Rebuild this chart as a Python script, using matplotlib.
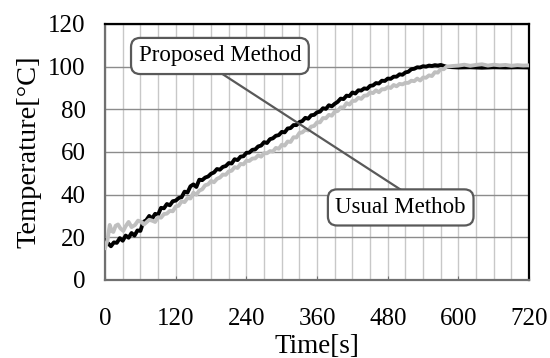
import numpy as np
import matplotlib
matplotlib.use("Agg")
import matplotlib.pyplot as plt
from matplotlib.ticker import MultipleLocator

plt.rcParams['font.family'] = ['Liberation Serif', 'DejaVu Serif']

# proposed method (black trace)
t_prop = [0, 5, 10, 15, 20, 25, 30, 35, 40, 45, 50, 55, 60, 65, 70, 75, 80, 85, 90, 95,
          100, 105, 110, 115, 120, 125, 130, 135, 140, 145, 150, 155, 160, 165, 170, 175,
          180, 185, 190, 195, 200, 205, 210, 215, 220, 225, 230, 235, 240, 245, 250, 255,
          260, 265, 270, 275, 280, 285, 290, 295, 300, 305, 310, 315, 320, 325, 330, 335,
          340, 345, 350, 355, 360, 365, 370, 375, 380, 385, 390, 395, 400, 405, 410, 415,
          420, 425, 430, 435, 440, 445, 450, 455, 460, 465, 470, 475, 480, 485, 490, 495,
          500, 505, 510, 515, 520, 525, 530, 535, 540, 545, 550, 555, 560, 565, 570,
          580, 600, 620, 640, 660, 680, 700, 720]
T_prop = [18.5, 17.2, 15.8, 17.6, 17.4, 19.6, 18.4, 20.8, 19.8, 22.0, 20.8, 23.2, 23.0, 27.2, 28.0, 30.0, 28.8, 31.0, 30.6, 33.8,
          33.6, 35.6, 35.0, 36.9, 37.2, 38.4, 38.8, 41.4, 41.0, 43.9, 44.8, 43.6, 47.0, 46.8, 48.0, 48.5,
          49.8, 50.4, 52.0, 51.7, 53.0, 53.4, 54.8, 54.6, 56.6, 56.2, 57.8, 58.0, 59.6, 59.7, 61.0, 61.2,
          62.6, 63.0, 64.6, 64.2, 66.0, 66.4, 67.6, 67.9, 69.4, 69.2, 71.0, 71.2, 72.6, 72.6, 74.0, 74.5,
          76.0, 75.6, 77.2, 77.4, 78.6, 78.9, 80.5, 80.2, 81.9, 81.4, 82.6, 83.5, 85.0, 84.8, 86.4, 86.2,
          87.9, 87.4, 88.9, 88.8, 89.8, 89.6, 91.0, 91.2, 92.3, 92.1, 93.4, 93.3, 94.4, 94.3, 95.3, 95.3,
          96.4, 96.2, 97.3, 97.6, 98.8, 99.0, 99.7, 99.6, 100.2, 100.0, 100.5, 100.3, 100.7, 100.5, 100.8,
          99.9, 99.6, 99.7, 99.5, 99.7, 99.6, 99.7, 99.6]

# usual method (gray trace)
t_usual = [0, 4, 8, 11, 14, 18, 22, 26, 31, 35, 40, 45, 51, 56, 62, 66, 70, 75, 80, 85,
           90, 95, 100, 105, 110, 115, 120, 125, 130, 135, 140, 145, 150, 155, 160, 165,
           170, 175, 180, 185, 190, 195, 200, 205, 210, 215, 220, 225, 230, 235, 240, 245,
           250, 255, 260, 265, 270, 275, 280, 285, 290, 295, 300, 305, 310, 315, 320, 325,
           330, 335, 340, 345, 350, 355, 360, 365, 370, 375, 380, 385, 390, 395, 400, 405,
           410, 415, 420, 425, 430, 435, 440, 445, 450, 455, 460, 465, 470, 475, 480, 485,
           490, 495, 500, 505, 510, 515, 520, 525, 530, 535, 540, 545, 550, 555, 560, 565,
           570, 575, 580, 590, 600, 610, 620, 630, 640, 650, 660, 670, 680, 690, 700, 710, 720]
T_usual = [15.0, 18.5, 25.8, 23.0, 22.5, 25.4, 26.0, 24.2, 23.0, 25.2, 27.2, 24.8, 25.8, 27.8, 27.2, 26.0, 27.0, 28.2, 27.8, 27.2,
           29.4, 29.2, 30.9, 31.1, 32.4, 32.2, 34.4, 34.8, 36.9, 36.5, 38.4, 38.2, 40.9, 40.0, 41.9, 42.5,
           44.4, 44.8, 46.4, 45.8, 47.4, 48.0, 49.4, 49.3, 50.9, 51.2, 52.9, 52.5, 54.4, 54.2, 55.9, 55.8,
           56.9, 57.0, 58.4, 57.8, 59.4, 59.4, 60.4, 60.2, 61.9, 61.5, 63.4, 63.0, 64.9, 64.7, 66.9, 66.8,
           68.9, 69.2, 70.4, 70.1, 71.9, 72.2, 73.9, 73.9, 75.9, 75.8, 77.4, 77.0, 78.9, 79.2, 80.9, 80.8,
           82.9, 82.2, 83.9, 84.0, 85.4, 84.9, 86.4, 86.5, 87.9, 87.6, 88.9, 88.0, 89.4, 89.4, 90.4, 90.0,
           91.4, 90.8, 91.9, 91.7, 92.4, 92.4, 93.4, 93.2, 94.4, 93.5, 94.9, 94.8, 95.9, 95.6, 97.4, 97.2,
           98.9, 98.8, 100.0, 100.3, 100.5, 100.9, 100.4, 100.8, 101.1, 100.5, 100.9, 100.6, 100.8, 100.4, 100.7, 100.5, 100.6]

fig = plt.figure(figsize=(5.5, 3.58), dpi=100)
ax = fig.add_axes([0.191, 0.218, 0.771, 0.715])

ax.plot(t_prop, T_prop, color='black', lw=2.8, zorder=3)
ax.plot(t_usual, T_usual, color='#bfbfbf', lw=2.8, zorder=4)

ax.set_xlim(0, 720)
ax.set_ylim(0, 120)
ax.xaxis.set_major_locator(MultipleLocator(120))
ax.xaxis.set_minor_locator(MultipleLocator(30))
ax.yaxis.set_major_locator(MultipleLocator(20))

ax.grid(which='minor', axis='x', color='#c8c8c8', lw=1.0, zorder=0)
ax.grid(which='major', axis='x', color='#c8c8c8', lw=1.0, zorder=0)
ax.grid(which='major', axis='y', color='#8c8c8c', lw=1.0, zorder=0)
ax.set_axisbelow(True)

for side in ['top', 'right']:
    ax.spines[side].set_color('black')
    ax.spines[side].set_linewidth(1.6)
for side in ['left', 'bottom']:
    ax.spines[side].set_color('#707070')
    ax.spines[side].set_linewidth(1.6)

ax.tick_params(axis='x', which='major', direction='in', length=3, color='#707070',
               labelsize=18, pad=20)
ax.tick_params(axis='x', which='minor', length=0)
ax.tick_params(axis='y', which='major', length=0, labelsize=18, pad=14)

ax.set_xlabel('Time[s]', fontsize=19.5, labelpad=3)
ax.set_ylabel('Temperature[\u00b0C]', fontsize=20.5, labelpad=5)

# callout leader and labels
ax.plot([199, 501], [96.6, 42.5], color='#595959', lw=1.6, zorder=5)
box = dict(boxstyle='round,pad=0.33,rounding_size=0.4', fc='white', ec='#595959', lw=1.6)
ax.text(195, 105, 'Proposed Method', fontsize=16.5, ha='center', va='center', bbox=box, zorder=6)
ax.text(502, 34, 'Usual Methob', fontsize=16.5, ha='center', va='center', bbox=box, zorder=6)

fig.savefig('out.png', dpi=100)
